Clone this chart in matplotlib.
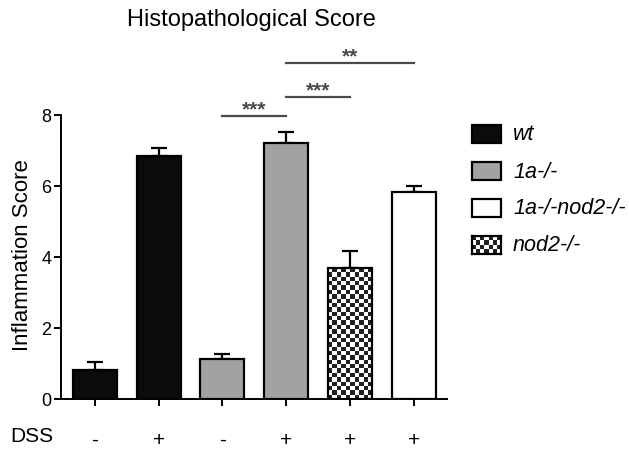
import numpy as np
import matplotlib
matplotlib.use('Agg')
import matplotlib.pyplot as plt
from matplotlib.patches import Rectangle

# values
genotypes = ['wt', 'wt', '1a-/-', '1a-/-', 'nod2-/-', '1a-/-nod2-/-']
dss = ['-', '+', '-', '+', '+', '+']
scores = [0.83, 6.84, 1.13, 7.20, 3.68, 5.82]
sem = [0.20, 0.22, 0.13, 0.33, 0.49, 0.17]
comparisons = [(2, 3, '***'), (3, 4, '***'), (3, 5, '**')]
legend_order = ['wt', '1a-/-', '1a-/-nod2-/-', 'nod2-/-']

fill = {'wt': '#0b0b0b', '1a-/-': '#a2a2a5', '1a-/-nod2-/-': 'white', 'nod2-/-': 'checker'}

plt.rcParams['font.family'] = ['Liberation Sans', 'DejaVu Sans']

W, H = 629, 456
fig = plt.figure(figsize=(W / 100, H / 100), dpi=100)
ax = fig.add_axes([61 / W, 1 - 400 / H, (447 - 61) / W, (400 - 116) / H])

x = np.arange(len(scores))
ax.set_xlim(-0.53, 5.52)
ax.set_ylim(0, 8)


def checker(nrows, ncols):
    r, c = np.indices((nrows, ncols))
    return ((r + c) % 2).astype(float)


bars = []
for i, g in enumerate(genotypes):
    fc = fill[g]
    b = ax.bar(x[i], scores[i], width=0.69, color='none' if fc == 'checker' else fc,
               edgecolor='black', linewidth=1.6, zorder=3)[0]
    bars.append(b)
    if fc == 'checker':
        # checkered texture clipped to the bar
        bx0, by0 = b.get_x(), 0
        bw, bh = b.get_width(), b.get_height()
        px_w = bw / (5.52 + 0.53) * (447 - 61)
        px_h = bh / 8 * (400 - 116)
        img = checker(int(round(px_h / 4.3)), int(round(px_w / 4.3)))
        im = ax.imshow(img, cmap='gray', vmin=-0.15, vmax=1, extent=(bx0, bx0 + bw, by0, by0 + bh),
                       aspect='auto', interpolation='nearest', zorder=2.5, origin='lower')
        im.set_clip_path(b)

ax.errorbar(x, scores, yerr=[np.zeros(len(sem)), sem], fmt='none', ecolor='black',
            elinewidth=1.6, capsize=6, capthick=1.6, zorder=2)

# significance brackets
levels = [7.97, 8.5, 9.46]
for (a, b, s), lv in zip(comparisons, levels):
    ax.plot([x[a], x[b]], [lv, lv], color='#4a4a4a', lw=1.6, clip_on=False)
    ax.text((x[a] + x[b]) / 2, lv + 0.06, s, ha='center', va='baseline', fontsize=15,
            color='#4a4a4a', fontweight='bold')

for side in ['top', 'right']:
    ax.spines[side].set_visible(False)
for side in ['left', 'bottom']:
    ax.spines[side].set_linewidth(1.4)

ax.set_yticks([0, 2, 4, 6, 8])
ax.tick_params(axis='y', direction='out', length=5, width=1.4, pad=2, labelsize=13)
ax.set_xticks(x)
ax.set_xticklabels(dss, fontsize=15)
ax.tick_params(axis='x', direction='out', length=5, width=1.4, pad=17)

ax.set_ylabel('Inflammation Score', fontsize=16)
ax.yaxis.set_label_coords(-0.072, 0.51)

fig.text(251 / W, 1 - 20 / H, 'Histopathological Score', ha='center', va='center', fontsize=17)
fig.text(10 / W, 1 - 437 / H, 'DSS', ha='left', va='center', fontsize=15)

# legend
row_y = [135, 172, 209, 246]
for name, yy in zip(legend_order, row_y):
    fc = fill[name]
    rect = [472 / W, 1 - (yy + 9) / H, 29 / W, 18 / H]
    if fc == 'checker':
        lax = fig.add_axes(rect)
        lax.imshow(checker(4, 7), cmap='gray', vmin=-0.15, vmax=1, aspect='auto',
                   interpolation='nearest')
        lax.set_xticks([])
        lax.set_yticks([])
        for sp in lax.spines.values():
            sp.set_linewidth(1.6)
    else:
        fig.patches.append(Rectangle((rect[0], rect[1]), rect[2], rect[3], facecolor=fc,
                                     edgecolor='black', linewidth=1.6,
                                     transform=fig.transFigure, figure=fig))
    fig.text(513 / W, 1 - yy / H, name, ha='left', va='center', fontsize=15.5, style='italic')

fig.savefig('out.png', dpi=100)
